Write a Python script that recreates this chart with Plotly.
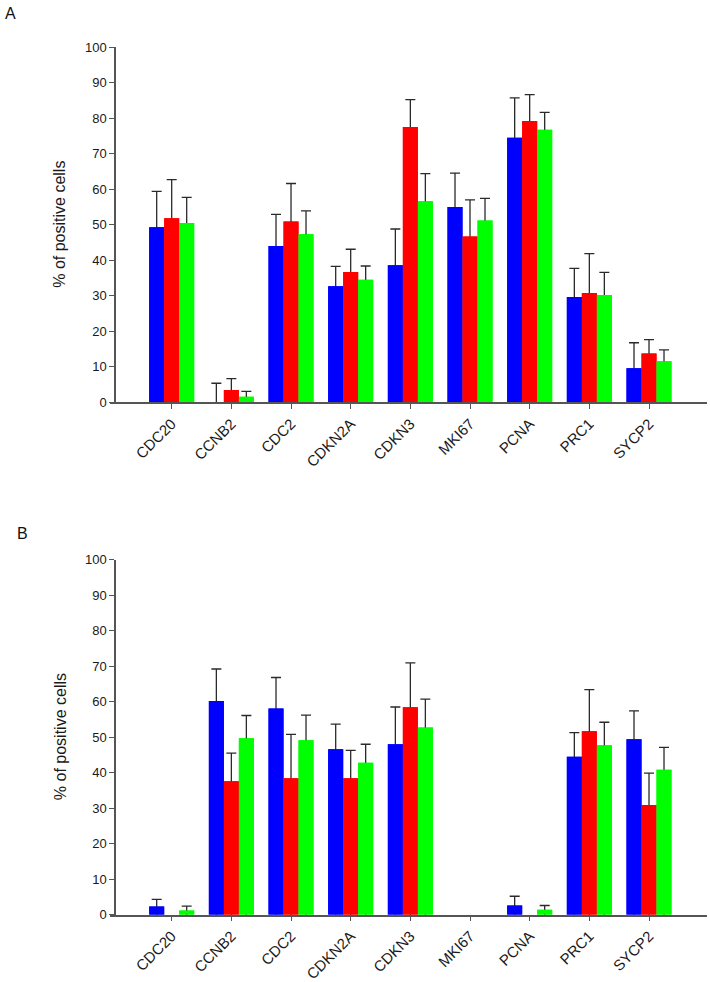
import plotly.graph_objects as go

genes = ["CDC20", "CCNB2", "CDC2", "CDKN2A", "CDKN3", "MKI67", "PCNA", "PRC1", "SYCP2"]

# Panel A (mean % positive cells and upper error)
a_blue = [49.3, 0.0, 44.0, 32.7, 38.6, 55.0, 74.5, 29.7, 9.6]
a_blue_err = [10.1, 5.4, 8.9, 5.6, 10.2, 9.5, 11.2, 8.0, 7.2]
a_red = [51.8, 3.5, 50.9, 36.7, 77.5, 46.7, 79.2, 30.8, 13.8]
a_red_err = [10.9, 3.2, 10.7, 6.4, 7.7, 10.3, 7.4, 11.1, 3.9]
a_green = [50.5, 1.6, 47.3, 34.5, 56.6, 51.2, 76.7, 30.2, 11.6]
a_green_err = [7.2, 1.5, 6.6, 3.9, 7.8, 6.2, 4.9, 6.4, 3.2]

# Panel B
b_blue = [2.3, 60.2, 58.1, 46.6, 48.0, 0.0, 2.6, 44.5, 49.4]
b_blue_err = [2.0, 9.0, 8.7, 7.1, 10.5, None, 2.6, 6.8, 8.0]
b_red = [0.0, 37.6, 38.4, 38.4, 58.4, 0.0, 0.0, 51.7, 30.9]
b_red_err = [None, 7.9, 12.4, 7.9, 12.5, None, None, 11.7, 9.0]
b_green = [1.2, 49.7, 49.1, 42.8, 52.7, 0.0, 1.4, 47.7, 40.8]
b_green_err = [1.2, 6.4, 7.1, 5.2, 8.0, None, 1.2, 6.5, 6.3]

y_ticks = [0, 10, 20, 30, 40, 50, 60, 70, 80, 90, 100]

colors = ["#0000FF", "#FF0000", "#00FF00"]
FONT = "Liberation Sans, Arial, sans-serif"
W, H = 710, 982
BAR_W = 0.2514
offsets = [-1.5 * BAR_W, -0.5 * BAR_W, 0.5 * BAR_W]


def py(Y):
    """paper y for a target pixel row in the captured picture"""
    return 1 - ((Y - 8) / 0.9826) / H


fig = go.Figure()

panels = [
    ("x", "y", [a_blue, a_red, a_green], [a_blue_err, a_red_err, a_green_err]),
    ("x2", "y2", [b_blue, b_red, b_green], [b_blue_err, b_red_err, b_green_err]),
]

for xa, ya, vals, errs in panels:
    # bars carrying the upper error whiskers (only where an error exists);
    # the whisker foot is pushed below the axis so it is clipped away
    for v, e, c, off in zip(vals, errs, colors, offsets):
        idx = [i for i, ee in enumerate(e) if ee is not None]
        fig.add_trace(go.Bar(
            x=[genes[i] for i in idx], y=[v[i] for i in idx],
            xaxis=xa, yaxis=ya, width=BAR_W, offset=off,
            marker=dict(color=c, line=dict(width=0)),
            error_y=dict(type="data", symmetric=False,
                         array=[e[i] for i in idx],
                         arrayminus=[v[i] + 10 for i in idx],
                         color="#2a2a2a", thickness=1.3, width=5),
            cliponaxis=True, showlegend=False, hoverinfo="skip",
        ))
    # same bars drawn on top to hide the part of the whisker inside the bar
    for v, c, off in zip(vals, colors, offsets):
        fig.add_trace(go.Bar(
            x=genes, y=v, xaxis=xa, yaxis=ya,
            width=BAR_W, offset=off,
            marker=dict(color=c, line=dict(width=0)),
            showlegend=False, hoverinfo="skip",
        ))

x_dom = [110 / W, 707 / W]
y_pos = 115 / W
x_range = [-1.034, 8.972]
a_dom = [py(403), py(48)]
b_dom = [py(914.7), py(560)]

axis_common = dict(showline=True, linecolor="#555555", linewidth=1.5,
                   ticks="outside", ticklen=5, tickwidth=1.2, tickcolor="#555555",
                   showgrid=False, zeroline=False,
                   tickfont=dict(family=FONT, size=13, color="#1a1a1a"))
xfont = dict(family=FONT, size=15, color="#1a1a1a")

fig.update_layout(
    width=W, height=H,
    margin=dict(l=0, r=0, t=0, b=0),
    paper_bgcolor="white", plot_bgcolor="white",
    barmode="overlay",
    font=dict(family=FONT, color="#1a1a1a"),
    xaxis=dict(domain=x_dom, anchor="y", range=x_range, type="category",
               categoryorder="array", categoryarray=genes,
               tickangle=-45, **{**axis_common, "tickfont": xfont}),
    yaxis=dict(domain=a_dom, anchor="free", position=y_pos, range=[0, 100],
               tickvals=y_ticks, **axis_common),
    xaxis2=dict(domain=x_dom, anchor="y2", range=x_range, type="category",
                categoryorder="array", categoryarray=genes,
                tickangle=-45, **{**axis_common, "tickfont": xfont}),
    yaxis2=dict(domain=b_dom, anchor="free", position=y_pos, range=[0, 100],
                tickvals=y_ticks, **axis_common),
    annotations=[
        dict(text="A", x=3 / W, y=1 + 4 / H, xref="paper", yref="paper",
             xanchor="left", yanchor="top", showarrow=False,
             font=dict(family=FONT, size=16, color="#111111")),
        dict(text="B", x=15 / W, y=py(523), xref="paper", yref="paper",
             xanchor="left", yanchor="top", showarrow=False,
             font=dict(family=FONT, size=16, color="#111111")),
        dict(text="% of positive cells", x=60 / W, y=(a_dom[0] + a_dom[1]) / 2,
             xref="paper", yref="paper", textangle=-90, showarrow=False,
             xanchor="center", yanchor="middle",
             font=dict(family=FONT, size=16, color="#1a1a1a")),
        dict(text="% of positive cells", x=60 / W, y=(b_dom[0] + b_dom[1]) / 2,
             xref="paper", yref="paper", textangle=-90, showarrow=False,
             xanchor="center", yanchor="middle",
             font=dict(family=FONT, size=16, color="#1a1a1a")),
    ],
)

fig.write_html("out.html", config={"displayModeBar": False},
               post_script="document.body.style.margin='0';")
